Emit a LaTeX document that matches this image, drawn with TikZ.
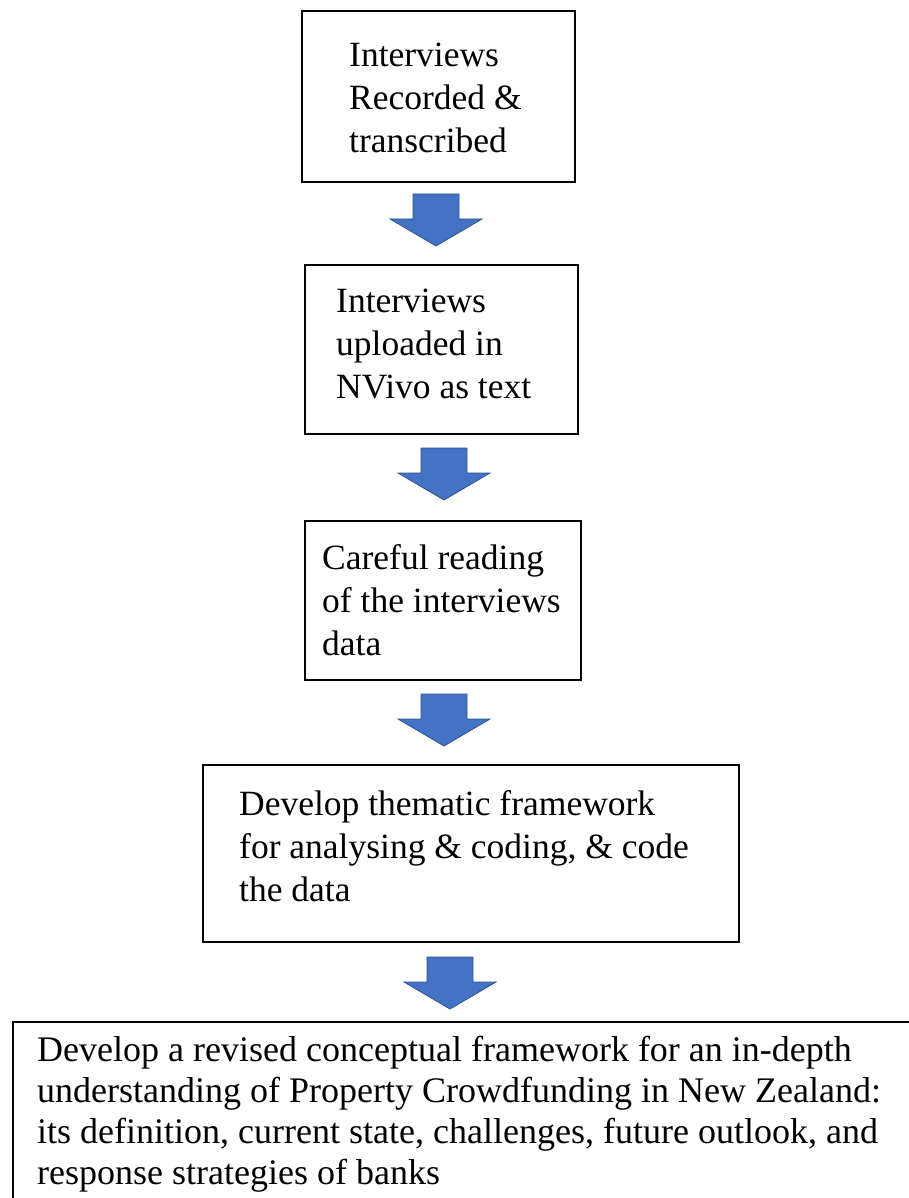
\documentclass[tikz,border=0pt]{standalone}
\usepackage{fontspec}
\setmainfont{Liberation Serif}
\definecolor{arrowblue}{HTML}{4472C4}
\definecolor{arrowedge}{HTML}{2F528F}
\tikzset{
  stepbox/.style={draw=black, line width=1.8pt, fill=white, inner sep=0pt,
    anchor=north west},
  % multi-line texts are placed by the baseline of their last line
  steptext/.style={anchor=base west, inner sep=0pt, align=left,
    font=\fontsize{35.5}{43}\selectfont},
  blockarrow/.style={fill=arrowblue, draw=arrowedge, line width=0.8pt},
  downarrow/.pic={
    \draw[blockarrow] (-23,0) -- (23,0) -- (23,25) -- (46,25) -- (0,52)
      -- (-46,25) -- (-23,25) -- cycle;
  }
}
\begin{document}
\begin{tikzpicture}[x=1pt,y=-1pt]
\useasboundingbox (0,0) rectangle (909,1198);
\clip (0,0) rectangle (909,1198);

% process boxes
\node[stepbox, minimum width=273pt, minimum height=171pt] (b1) at (301,10) {};
\node[stepbox, minimum width=273pt, minimum height=169pt] (b2) at (304,264) {};
\node[stepbox, minimum width=276pt, minimum height=159pt] (b3) at (304,520) {};
\node[stepbox, minimum width=536pt, minimum height=177pt] (b4) at (202,764) {};
\node[stepbox, minimum width=920pt, minimum height=200pt] (b5) at (12,1021) {};

% box texts
\node[steptext] (t1) at (349,153) {Interviews\\Recorded \&\\transcribed};
\node[steptext] (t2) at (336,398) {Interviews\\uploaded in\\NVivo as text};
\node[steptext] (t3) at (322,655) {Careful reading\\of the interviews\\data};
\node[steptext] (t4) at (239,901) {Develop thematic framework\\for analysing \& coding, \& code\\the data};
\node[steptext, font=\fontsize{36}{41}\selectfont] (t5) at (37,1184)
  {Develop a revised conceptual framework for an in-depth\\
   understanding of Property Crowdfunding in New Zealand:\\
   its definition, current state, challenges, future outlook, and\\
   response strategies of banks};

% block arrows between the steps
\pic at (436,194) {downarrow};
\pic at (444,448) {downarrow};
\pic at (444,694) {downarrow};
\pic at (450,957) {downarrow};
\end{tikzpicture}
\end{document}
